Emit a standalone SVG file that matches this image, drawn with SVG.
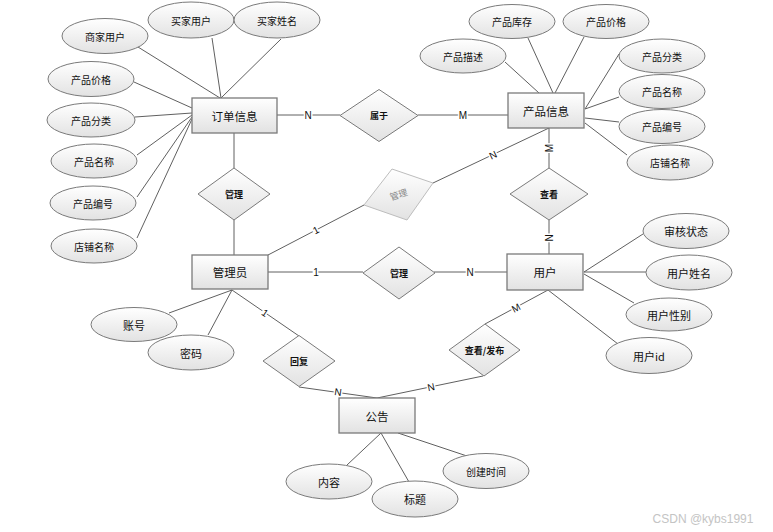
<svg xmlns="http://www.w3.org/2000/svg" width="773" height="532" viewBox="0 0 773 532">
<defs>
<linearGradient id="g" x1="0" y1="0" x2="0" y2="1">
<stop offset="0" stop-color="#ffffff"/>
<stop offset="1" stop-color="#e2e2e2"/>
</linearGradient>
<style>
.ent{fill:url(#g);stroke:#7a7a7a;stroke-width:1.3}
.sh{fill:#d0d0d0;stroke:none}
.att{fill:url(#g);stroke:#7a7a7a;stroke-width:1}
.rel{fill:url(#g);stroke:#7a7a7a;stroke-width:1}
.relg{fill:url(#g);stroke:#bdbdbd;stroke-width:1}
.ln{stroke:#606060;stroke-width:1;fill:none}
text{font-family:"Noto Sans CJK SC","Liberation Sans",sans-serif;fill:#111;text-anchor:middle;dominant-baseline:central}
.te{font-size:11.5px}
.ta{font-size:10px}
.tb{font-size:11px}
.tr{font-size:9px;font-weight:bold}
.card{font-family:"Liberation Sans",sans-serif;font-size:10px;stroke:#fff;stroke-width:3;paint-order:stroke}
</style>
</defs>
<rect width="773" height="532" fill="#fff"/>
<g id="connectors">
<line class="ln" x1="138" y1="47" x2="220" y2="98"/>
<line class="ln" x1="212" y1="38" x2="221" y2="98"/>
<line class="ln" x1="281" y1="39" x2="221" y2="98"/>
<line class="ln" x1="134" y1="82" x2="192" y2="108"/>
<line class="ln" x1="135" y1="117" x2="192" y2="113"/>
<line class="ln" x1="137" y1="155" x2="192" y2="115"/>
<line class="ln" x1="137" y1="197" x2="192" y2="117"/>
<line class="ln" x1="137" y1="238" x2="192" y2="119"/>
<line class="ln" x1="505" y1="62" x2="539" y2="93"/>
<line class="ln" x1="528" y1="38" x2="553" y2="93"/>
<line class="ln" x1="584" y1="37" x2="555" y2="93"/>
<line class="ln" x1="619" y1="54" x2="585" y2="109"/>
<line class="ln" x1="619" y1="97" x2="585" y2="109"/>
<line class="ln" x1="619" y1="122" x2="585" y2="118"/>
<line class="ln" x1="627" y1="155" x2="585" y2="123"/>
<line class="ln" x1="643" y1="234" x2="584" y2="272"/>
<line class="ln" x1="646" y1="272" x2="584" y2="272"/>
<line class="ln" x1="634" y1="303" x2="584" y2="274"/>
<line class="ln" x1="618" y1="344" x2="548" y2="290"/>
<line class="ln" x1="169" y1="313" x2="232" y2="290"/>
<line class="ln" x1="208" y1="335" x2="232" y2="290"/>
<line class="ln" x1="347" y1="465" x2="381" y2="433"/>
<line class="ln" x1="409" y1="482" x2="381" y2="433"/>
<line class="ln" x1="467" y1="456" x2="398" y2="433"/>
<line class="ln" x1="277" y1="115" x2="340" y2="115"/>
<line class="ln" x1="418" y1="115" x2="508" y2="115"/>
<line class="ln" x1="234" y1="133" x2="234" y2="168"/>
<line class="ln" x1="234" y1="220" x2="234" y2="255"/>
<line class="ln" x1="268" y1="255" x2="364" y2="205"/>
<line class="ln" x1="433" y1="183" x2="549" y2="128"/>
<line class="ln" x1="268" y1="272" x2="363" y2="272"/>
<line class="ln" x1="434" y1="272" x2="507" y2="272"/>
<line class="ln" x1="549" y1="128" x2="549" y2="168"/>
<line class="ln" x1="549" y1="220" x2="549" y2="254"/>
<line class="ln" x1="232" y1="290" x2="299" y2="336"/>
<line class="ln" x1="299" y1="387" x2="377" y2="398"/>
<line class="ln" x1="377" y1="398" x2="483" y2="376"/>
<line class="ln" x1="485" y1="324" x2="548" y2="290"/>
<text class="card" x="308" y="115">N</text>
<text class="card" x="463" y="115">M</text>
<text class="card" transform="translate(316,230) rotate(-27)">1</text>
<text class="card" transform="translate(493,155) rotate(-25)">N</text>
<text class="card" x="316" y="272">1</text>
<text class="card" x="470" y="272">N</text>
<text class="card" transform="translate(549,148) rotate(-90)">M</text>
<text class="card" transform="translate(549,238) rotate(-90)">N</text>
<text class="card" transform="translate(265,313) rotate(34)">1</text>
<text class="card" transform="translate(338,392) rotate(8)">N</text>
<text class="card" transform="translate(431,387) rotate(-12)">N</text>
<text class="card" transform="translate(516,308) rotate(-28)">M</text>
</g>
<g id="order">
<rect class="ent" x="192" y="98" width="85" height="35"/>
<text class="te" x="234.5" y="115.5">订单信息</text>
</g>
<g id="product">
<rect class="ent" x="508" y="93" width="76" height="35"/>
<text class="te" x="546" y="110.5">产品信息</text>
</g>
<g id="admin">
<rect class="ent" x="192" y="255" width="76" height="34"/>
<text class="te" x="230" y="272">管理员</text>
</g>
<g id="user">
<rect class="ent" x="507" y="254" width="76" height="36"/>
<text class="te" x="545" y="272">用户</text>
</g>
<g id="notice">
<rect class="ent" x="339" y="398" width="76" height="35"/>
<text class="te" x="377" y="415.5">公告</text>
</g>
<g id="rel-belong">
<polygon class="rel" points="340,115.5 379,89.5 418,115.5 379,141.5"/>
<text class="tr" x="379" y="115.5">属于</text>
</g>
<g id="rel-manage-order">
<polygon class="rel" points="198,194 234,168 270,194 234,220"/>
<text class="tr" x="234" y="194">管理</text>
</g>
<g id="rel-manage-product">
<polygon class="relg" points="392,169 433,183 407,220 364,205"/>
<text class="tr" fill="#888" style="fill:#8a8a8a;font-weight:normal" transform="translate(398.5,194.5) rotate(-17)">管理</text>
</g>
<g id="rel-view">
<polygon class="rel" points="510,194 549,168 588,194 549,220"/>
<text class="tr" x="549" y="194">查看</text>
</g>
<g id="rel-manage-user">
<polygon class="rel" points="363,273 399,247 435,273 399,299"/>
<text class="tr" x="399" y="273">管理</text>
</g>
<g id="rel-reply">
<polygon class="rel" points="263,361 299,335.5 335,361 299,386.5"/>
<text class="tr" x="299" y="361">回复</text>
</g>
<g id="rel-viewpublish">
<polygon class="rel" points="449,350 485,324 520,350 484,376"/>
<text class="tr" x="484.5" y="350">查看/发布</text>
</g>
<g id="a-merchant"><ellipse class="att" cx="105" cy="36" rx="43" ry="17.5"/><text class="ta" x="105" y="36">商家用户</text></g>
<g id="a-buyer"><ellipse class="att" cx="191" cy="20" rx="43" ry="18"/><text class="ta" x="191" y="20">买家用户</text></g>
<g id="a-buyername"><ellipse class="att" cx="277" cy="20" rx="43" ry="18"/><text class="ta" x="277" y="20">买家姓名</text></g>
<g id="a-o-price"><ellipse class="att" cx="91" cy="79" rx="43" ry="17.5"/><text class="ta" x="91" y="79">产品价格</text></g>
<g id="a-o-cat"><ellipse class="att" cx="91" cy="120" rx="44" ry="17"/><text class="ta" x="91" y="120">产品分类</text></g>
<g id="a-o-name"><ellipse class="att" cx="94" cy="161" rx="43" ry="17"/><text class="ta" x="94" y="161">产品名称</text></g>
<g id="a-o-no"><ellipse class="att" cx="93" cy="203" rx="43" ry="17"/><text class="ta" x="93" y="203">产品编号</text></g>
<g id="a-o-shop"><ellipse class="att" cx="94" cy="246" rx="43" ry="17"/><text class="ta" x="94" y="246">店铺名称</text></g>
<g id="a-p-stock"><ellipse class="att" cx="512" cy="21.5" rx="43" ry="17"/><text class="ta" x="512" y="21.5">产品库存</text></g>
<g id="a-p-price"><ellipse class="att" cx="606" cy="21.5" rx="43" ry="17"/><text class="ta" x="606" y="21.5">产品价格</text></g>
<g id="a-p-desc"><ellipse class="att" cx="463" cy="56" rx="43" ry="17"/><text class="ta" x="463" y="56">产品描述</text></g>
<g id="a-p-cat"><ellipse class="att" cx="662" cy="56" rx="43" ry="17"/><text class="ta" x="662" y="56">产品分类</text></g>
<g id="a-p-name"><ellipse class="att" cx="662" cy="91.5" rx="43" ry="17"/><text class="ta" x="662" y="91.5">产品名称</text></g>
<g id="a-p-no"><ellipse class="att" cx="662" cy="126.5" rx="43" ry="17"/><text class="ta" x="662" y="126.5">产品编号</text></g>
<g id="a-p-shop"><ellipse class="att" cx="670" cy="162.5" rx="43" ry="17.5"/><text class="ta" x="670" y="162.5">店铺名称</text></g>
<g id="a-u-status"><ellipse class="att" cx="686" cy="231" rx="43" ry="17.5"/><text class="tb" x="686" y="231">审核状态</text></g>
<g id="a-u-name"><ellipse class="att" cx="689" cy="272.5" rx="43" ry="17.5"/><text class="tb" x="689" y="272.5">用户姓名</text></g>
<g id="a-u-sex"><ellipse class="att" cx="669" cy="314.5" rx="43" ry="16.5"/><text class="tb" x="669" y="314.5">用户性别</text></g>
<g id="a-u-id"><ellipse class="att" cx="649" cy="355.5" rx="43" ry="18"/><text class="tb" x="649" y="355.5">用户id</text></g>
<g id="a-account"><ellipse class="att" cx="134" cy="324.5" rx="43" ry="17"/><text class="tb" x="134" y="324.5">账号</text></g>
<g id="a-password"><ellipse class="att" cx="191" cy="352.5" rx="43" ry="17.5"/><text class="tb" x="191" y="352.5">密码</text></g>
<g id="a-content"><ellipse class="att" cx="329" cy="481.5" rx="43" ry="17.5"/><text class="tb" x="329" y="481.5">内容</text></g>
<g id="a-title"><ellipse class="att" cx="415" cy="499" rx="43" ry="18"/><text class="tb" x="415" y="499">标题</text></g>
<g id="a-created"><ellipse class="att" cx="486" cy="471" rx="43" ry="17.5"/><text class="ta" x="486" y="471">创建时间</text></g>
<text x="703" y="519" style="font-family:'Liberation Sans',sans-serif;font-size:12px;fill:#c4c4c4">CSDN @kybs1991</text>
</svg>
